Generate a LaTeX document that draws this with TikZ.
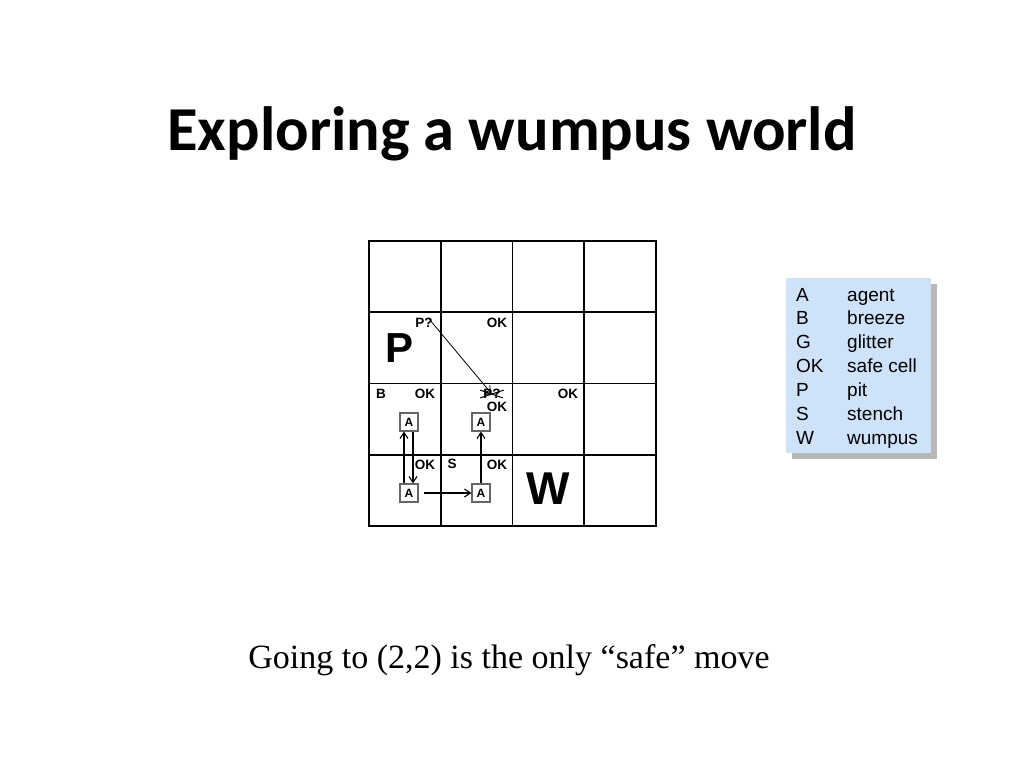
\documentclass[tikz,border=0pt]{standalone}
\usepackage{fontspec}
\setmainfont{Liberation Serif}
\setsansfont{Liberation Sans}
\newfontfamily\titlefont{Carlito}
\usetikzlibrary{arrows.meta,shadows}

\definecolor{legendblue}{RGB}{206,226,250}

\begin{document}
\begin{tikzpicture}[
        x=1pt, y=-1pt,
        lbl/.style={font=\sffamily\bfseries\fontsize{13.5}{13.5}\selectfont, inner sep=0pt},
        big/.style={font=\sffamily\bfseries\fontsize{42}{42}\selectfont, inner sep=0pt},
        agent/.style={draw=gray!80!black, line width=1.2pt, minimum size=18pt, inner sep=0pt,
          font=\sffamily\bfseries\fontsize{12}{12}\selectfont},
        move/.style={-{Straight Barb[length=6pt,width=8pt]}, line width=1.1pt},
        key/.style={font=\sffamily\fontsize{19}{19}\selectfont, anchor=base west, inner sep=0pt}
      ]
        % page
        \useasboundingbox (0,0) rectangle (1024,768);
        % title
        \node[font=\titlefont\bfseries\fontsize{62.5}{62.5}\selectfont] (title) at (512,134) {Exploring a wumpus world};
        % grid 4x4
        \draw[line width=1.6pt] (369,241) rectangle (656,526);
        \foreach \i in {1,2,3} {
          \draw[line width=1.6pt] ({369+71.75*\i},241) -- ({369+71.75*\i},526);
          \draw[line width=1.6pt] (369,{241+71.25*\i}) -- (656,{241+71.25*\i});
        }
        % row 3
        \node[big] (pit) at (400,348) {P};
        \node[lbl] (p13) at (424,323) {P?};
        \node[lbl] (ok23) at (497,323) {OK};
        % row 2
        \node[lbl] (b12) at (381,394) {B};
        \node[lbl] (ok12) at (425,394) {OK};
        \node[lbl] (p22) at (492,394) {P?};
        \node[lbl] (ok22) at (497,407) {OK};
        \node[lbl] (ok32) at (568,394) {OK};
        \node[agent] (a12) at (409,422) {A};
        \node[agent] (a22) at (481,422) {A};
        % row 1
        \node[lbl] (ok11) at (425,465) {OK};
        \node[lbl] (s21) at (452,464) {S};
        \node[lbl] (ok21) at (497,465) {OK};
        \node[big, font=\sffamily\bfseries\fontsize{46}{46}\selectfont] (wumpus) at (548,489) {W};
        \node[agent] (a11) at (409,493) {A};
        \node[agent] (a21) at (481,493) {A};
        % moves of the agent
        \draw[move] ([xshift=-5pt]a11.north) -- ([xshift=-5pt]a12.south);
        \draw[move] ([xshift=4pt]a12.south) -- ([xshift=4pt]a11.north);
        \draw[move] ([xshift=5pt]a11.east) -- (a21.west);
        \draw[move] (a21.north) -- (a22.south);
        % P? crossed out
        \draw[move, line width=0.8pt] ([shift={(5pt,9pt)}]p13.south) -- ([shift={(-1pt,1pt)}]p22.center);
        \draw[line width=1pt] ([shift={(-3pt,-1pt)}]p22.north west) -- ([shift={(2pt,1pt)}]p22.south east);
        \draw[line width=1pt] ([shift={(-3pt,1pt)}]p22.south west) -- ([shift={(3pt,-1pt)}]p22.north east);
        % legend
        \node[draw=none, fill=legendblue, minimum width=145pt, minimum height=175pt,
          drop shadow={shadow xshift=6pt, shadow yshift=-6pt, fill=gray!70, opacity=0.8}]
          (legend) at (858.5,365.5) {};
        \foreach \k/\d [count=\n] in {A/agent, B/breeze, G/glitter, OK/safe cell, P/pit, S/stench, W/wumpus} {
          \node[key] (key\n) at (796,{301+23.9*(\n-1)}) {\k};
          \node[key] (desc\n) at (847,{301+23.9*(\n-1)}) {\d};
        }
        % caption
        \node[font=\fontsize{34}{34}\selectfont] (caption) at (509,660) {Going to (2,2) is the only “safe” move};
\end{tikzpicture}
\end{document}
